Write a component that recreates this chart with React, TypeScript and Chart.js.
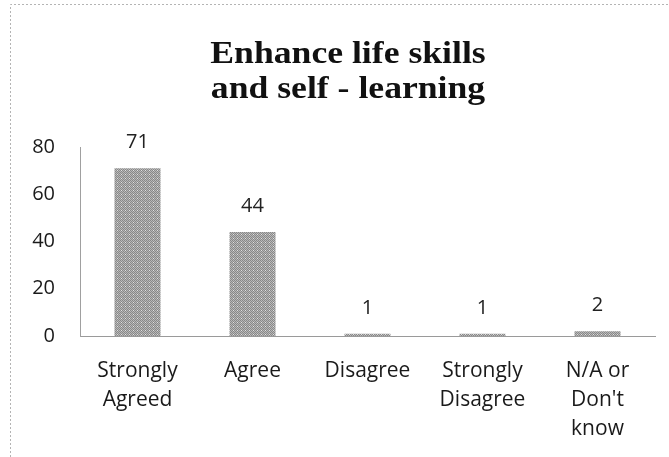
import React, { useEffect, useRef } from "react";
import { Chart, registerables } from "chart.js";

Chart.register(...registerables);

const titleLines = ["Enhance life skills", "and self - learning"];
const categories: string[][] = [
  ["Strongly", "Agreed"],
  ["Agree"],
  ["Disagree"],
  ["Strongly", "Disagree"],
  ["N/A or", "Don't", "know"],
];
const responses = [71, 44, 1, 1, 2];
const yTicks = [0, 20, 40, 60, 80];

function makePattern(): CanvasPattern | string {
  const c = document.createElement("canvas");
  c.width = 4;
  c.height = 4;
  const ctx = c.getContext("2d");
  if (!ctx) return "#a0a0a0";
  for (let y = 0; y < 4; y++) {
    for (let x = 0; x < 4; x++) {
      ctx.fillStyle = (x + y) % 2 === 0 ? "#888888" : (x === 1 && y === 2 ? "#e0e0e0" : "#b8b8b8");
      ctx.fillRect(x, y, 1, 1);
    }
  }
  const p = ctx.createPattern(c, "repeat");
  return p || "#a0a0a0";
}

const framePlugin = {
  id: "frame",
  beforeDraw(chart: any) {
    const ctx = chart.ctx;
    ctx.save();
    ctx.strokeStyle = "#b4b4b4";
    ctx.lineWidth = 1;
    ctx.setLineDash([2, 2]);
    ctx.beginPath();
    ctx.moveTo(10.5, chart.height);
    ctx.lineTo(10.5, 4.5);
    ctx.lineTo(chart.width, 4.5);
    ctx.stroke();
    ctx.restore();
  },
};

const titlePlugin = {
  id: "stretchedTitle",
  afterDraw(chart: any) {
    const ctx = chart.ctx;
    ctx.save();
    ctx.fillStyle = "#111";
    ctx.font = "bold 31px 'Liberation Serif', 'Times New Roman', serif";
    ctx.textAlign = "center";
    ctx.textBaseline = "alphabetic";
    const baselines = [63, 98];
    titleLines.forEach((line, i) => {
      ctx.save();
      ctx.translate(348, baselines[i]);
      ctx.scale(1.15, 1);
      ctx.fillText(line, 0, 0);
      ctx.restore();
    });
    ctx.restore();
  },
};

const valueLabelPlugin = {
  id: "valueLabels",
  afterDatasetsDraw(chart: any) {
    const ctx = chart.ctx;
    const meta = chart.getDatasetMeta(0);
    ctx.save();
    ctx.fillStyle = "#222";
    ctx.font = "20px 'Open Sans', sans-serif";
    ctx.textAlign = "center";
    ctx.textBaseline = "alphabetic";
    meta.data.forEach((bar: any, i: number) => {
      ctx.fillText(String(chart.data.datasets[0].data[i]), bar.x, bar.y - 20);
    });
    ctx.restore();
  },
};

export default function App() {
  const ref = useRef<HTMLCanvasElement | null>(null);

  useEffect(() => {
    document.body.style.margin = "0";
    if (!ref.current) return;
    const chart = new Chart(ref.current, {
      type: "bar",
      data: {
        labels: categories,
        datasets: [
          {
            data: responses,
            backgroundColor: makePattern() as any,
            borderWidth: 0,
            barPercentage: 0.4,
            categoryPercentage: 1,
          },
        ],
      },
      options: {
        animation: false,
        responsive: true,
        maintainAspectRatio: false,
        layout: { padding: { left: 0, right: 14, top: 147, bottom: 0 } },
        plugins: {
          legend: { display: false },
          title: { display: false },
          tooltip: { enabled: false },
        },
        scales: {
          x: {
            afterFit(scale: any) {
              scale.height = 121;
            },
            grid: { display: false, drawTicks: false },
            border: { display: true, color: "#9a9a9a", width: 1, dash: [2, 1] },
            ticks: {
              color: "#1a1a1a",
              font: { family: "'Open Sans', sans-serif", size: 21, lineHeight: 1.38 },
              padding: 21,
              maxRotation: 0,
              autoSkip: false,
            },
          },
          y: {
            min: 0,
            max: 80,
            afterFit(scale: any) {
              scale.width = 80;
            },
            afterBuildTicks(scale: any) {
              scale.ticks = yTicks.map((v) => ({ value: v }));
            },
            grid: { display: false, drawTicks: false },
            border: { display: true, color: "#a0a0a0", width: 1 },
            ticks: {
              color: "#1a1a1a",
              font: { family: "'Open Sans', sans-serif", size: 20 },
              padding: 25,
            },
          },
        },
      },
      plugins: [framePlugin, titlePlugin, valueLabelPlugin],
    });
    return () => chart.destroy();
  }, []);

  return (
    <div style={{ position: "fixed", left: 0, top: 0, width: 669, height: 457 }}>
      <canvas ref={ref} />
    </div>
  );
}
